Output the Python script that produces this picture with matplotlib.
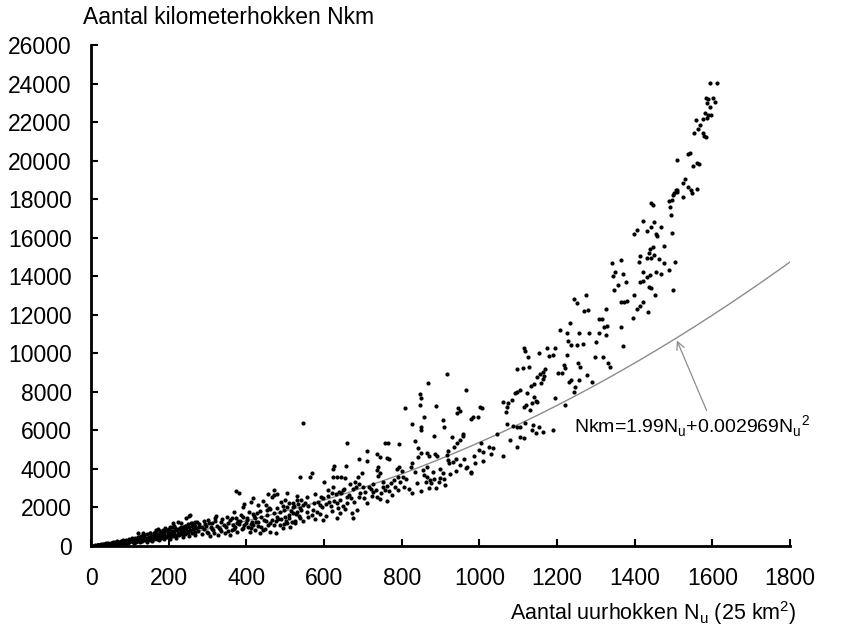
import numpy as np
import matplotlib
matplotlib.use("Agg")
import matplotlib.pyplot as plt

plt.rcParams['font.family'] = ['Liberation Sans', 'DejaVu Sans']
plt.rcParams['mathtext.fontset'] = 'custom'
plt.rcParams['mathtext.rm'] = 'Liberation Sans'

##Data: (Nu, Nkm) pairs, grouped by region

# dense band, Nu < 280
band_low = [(4, 10), (7, 25), (9, 15), (11, 40), (13, 20), (15, 55), (17, 35), (19, 30), (21, 70), (23, 45),
            (26, 60), (27, 90), (29, 50), (31, 80), (33, 110), (35, 65), (37, 95), (39, 130), (41, 75), (43, 105),
            (45, 150), (47, 90), (49, 120), (51, 170), (53, 100), (55, 140), (57, 190), (59, 115), (61, 160), (63, 210),
            (65, 130), (66, 250), (68, 175), (70, 145), (72, 220), (74, 160), (76, 280), (78, 195), (80, 150), (81, 240),
            (83, 300), (85, 180), (87, 210), (89, 330), (91, 170), (93, 260), (95, 225), (97, 360), (99, 190), (101, 290),
            (103, 240), (105, 400), (107, 210), (109, 320), (111, 260), (113, 430), (115, 230), (117, 350), (119, 280),
            (121, 470), (123, 250), (125, 380), (127, 300), (129, 520), (131, 270), (133, 410), (135, 330), (137, 560),
            (139, 290), (141, 440), (143, 360), (145, 600), (147, 310), (149, 480), (151, 390), (153, 650), (155, 330),
            (157, 510), (159, 420), (161, 700), (163, 350), (165, 540), (167, 450), (169, 620), (171, 380), (173, 580),
            (175, 480), (177, 760), (179, 400), (181, 610), (183, 510), (185, 680), (187, 430), (189, 650), (191, 540),
            (193, 820), (195, 460), (197, 700), (199, 570), (201, 880), (203, 480), (205, 740), (207, 600), (209, 800),
            (211, 510), (213, 780), (215, 640), (217, 950), (219, 540), (221, 820), (223, 680), (225, 900), (227, 570),
            (229, 860), (231, 720), (233, 1000), (235, 600), (237, 900), (239, 760), (241, 1050), (243, 630), (245, 940),
            (247, 800), (249, 1120), (251, 660), (253, 980), (255, 840), (257, 1180), (259, 700), (261, 1020), (263, 880),
            (265, 1100), (267, 740), (269, 1060), (271, 920), (273, 1250), (275, 780), (277, 1000), (279, 1150),
            (18, 60), (34, 40), (52, 75), (67, 95), (82, 120), (96, 140), (112, 170), (126, 200), (144, 230), (158, 260),
            (174, 300), (188, 340), (204, 370), (220, 410), (236, 450), (252, 500), (268, 560),
            (152, 692), (167, 830), (178, 744), (195, 830), (208, 969), (214, 1038), (229, 917), (238, 1003), (253, 1557),
            (245, 1038), (259, 1176), (268, 1263), (254, 1609), (245, 1436), (233, 1176), (224, 1263), (211, 1176),
            (203, 1003), (191, 917), (185, 830), (121, 657), (134, 692), (164, 744), (173, 865)]

# Nu 280 - 540
band_mid = [(373, 2871), (382, 2733), (418, 2474), (465, 2560), (471, 2647), (478, 2682), (444, 2353),
            (451, 2128), (459, 1955), (452, 1868), (461, 1903), (488, 2301), (500, 2387), (511, 2214), (494, 2076),
            (506, 2041), (521, 2249), (530, 2387), (534, 2180), (523, 2076), (367, 1782), (391, 2041), (408, 1782),
            (418, 1661), (428, 1695), (437, 1522), (422, 1436), (487, 1782), (480, 1522), (500, 1522), (511, 1609),
            (521, 1695), (531, 1782), (465, 1349), (476, 1315), (487, 1090), (506, 1176), (517, 1263), (525, 1315),
            (537, 1436), (494, 917), (512, 969), (442, 830), (457, 1090), (431, 1038), (414, 1263), (401, 1349),
            (391, 1522), (384, 1315), (373, 1436), (377, 1176), (365, 1090), (358, 1349), (349, 1522), (334, 1263),
            (319, 1436), (322, 1557), (311, 1211), (302, 1349), (294, 1142), (285, 969), (298, 744), (315, 830),
            (332, 865), (345, 692), (362, 830), (375, 744), (392, 917), (409, 744), (422, 830), (435, 657), (448, 865),
            (461, 744), (476, 657), (405, 1003), (418, 1090), (358, 571), (328, 571), (306, 519),
            (285, 600), (292, 880), (300, 650), (308, 980), (318, 700), (325, 1050), (336, 760), (342, 1100),
            (352, 800), (368, 900), (380, 1150), (388, 870), (398, 1200), (412, 950), (425, 1250), (438, 1000),
            (450, 1300), (470, 1100), (482, 1400), (498, 1150), (510, 1450), (525, 1200), (535, 1550),
            (290, 1300), (296, 1020), (304, 1180), (312, 890), (320, 1280), (329, 960), (338, 1380), (347, 1010),
            (354, 1180), (362, 1460), (371, 1000), (379, 1290), (386, 1600), (395, 1080), (403, 1430), (411, 1150),
            (420, 1560), (429, 1240), (436, 1800), (445, 1350), (453, 1620), (462, 1200), (472, 1700), (480, 1950),
            (489, 1400), (496, 1850), (503, 1300), (514, 1800), (519, 2000), (528, 1650), (538, 1950), (395, 2200),
            (412, 2300), (430, 2150), (456, 2700), (505, 2750), (472, 2900), (530, 2600)]

# Nu 540 - 1050
band_up = [(918, 8926), (869, 8477), (547, 6366), (846, 7888), (849, 7664), (847, 7318), (809, 7145), (888, 7266),
           (966, 8096), (858, 6678), (851, 6159), (849, 6020), (826, 6332), (907, 6539), (909, 6159), (946, 7145),
           (949, 7024), (943, 6885), (978, 6574), (983, 6678), (997, 6678), (1002, 7231), (1006, 7145), (959, 5813),
           (957, 5709), (882, 5709), (929, 5640), (834, 5467), (660, 5328), (757, 5363), (766, 5363), (794, 5293),
           (710, 4948), (737, 4775), (743, 4636), (761, 4550), (768, 4498), (843, 5068), (849, 4844), (843, 4636),
           (864, 4809), (871, 4671), (886, 4775), (892, 4671), (920, 4948), (935, 5120), (942, 5328), (949, 5501),
           (916, 4723), (920, 4463), (967, 4083), (978, 3858), (989, 4290), (1000, 4982), (1009, 4896), (1004, 5328),
           (1026, 5155), (1036, 5068), (626, 4152), (622, 3979), (657, 4152), (634, 3599), (643, 3599), (654, 3512),
           (710, 4429), (691, 4498), (740, 4117), (737, 3944), (744, 3771), (740, 3633), (794, 4117), (787, 3979),
           (800, 3910), (803, 3564), (791, 3564), (826, 4290), (823, 4117), (834, 3858), (854, 3944), (866, 4083),
           (880, 3858), (866, 3564), (873, 3425), (863, 3339), (875, 3252), (899, 3979), (906, 3771), (909, 3460),
           (899, 3512), (923, 4290), (933, 4377), (941, 4498), (949, 4204), (966, 4031), (978, 3806), (912, 3166),
           (888, 2993), (871, 2993), (849, 2854), (826, 2768), (806, 3079), (791, 2906), (753, 3339), (763, 3114),
           (772, 3252), (783, 3079), (757, 2906), (774, 2647), (736, 2560), (717, 3079), (720, 2941), (727, 2820),
           (734, 2906), (723, 2595), (744, 2422), (761, 2353), (697, 3771), (688, 3599), (680, 3339), (691, 3218),
           (700, 3079), (682, 3045), (667, 3218), (674, 2941), (693, 2733), (703, 2474), (658, 2560), (669, 2474),
           (645, 2733), (650, 2906), (639, 2820), (624, 3045), (620, 2733), (611, 2906), (598, 2474), (591, 2560),
           (577, 2699), (574, 2214), (590, 2128), (605, 2180), (614, 2301), (626, 2353), (633, 2214), (637, 1955),
           (648, 2076), (660, 2214), (671, 1695), (684, 1868), (674, 1436), (633, 1436), (597, 1349), (581, 1781),
           (568, 1609), (555, 1782), (547, 2128), (540, 1868), (557, 2560), (551, 2214), (542, 2387), (564, 3599),
           (538, 3599), (568, 3771), (600, 3339), (622, 3599),
           (545, 1300), (560, 1500), (578, 1400), (590, 1650), (605, 1550), (620, 1800), (640, 1700), (655, 1900),
           (560, 2050), (572, 1850), (585, 2300), (595, 2000), (610, 2600), (618, 2100), (630, 2700), (642, 2400),
           (652, 2950), (665, 2650), (678, 2300), (690, 2550), (705, 2800), (712, 2250), (725, 3200), (748, 2750),
           (752, 3050), (768, 2850), (780, 3400), (795, 3300), (812, 3500), (818, 2950), (840, 3250), (858, 3700),
           (884, 3500), (895, 3300), (925, 3750), (940, 3900), (960, 4500), (985, 4650), (1010, 4400), (1030, 4800),
           (1045, 5800)]

# Nu 1050 - 1450, below Nkm 13000
band_high = [(1244, 12802), (1252, 12629), (1274, 13009), (1280, 12248), (1269, 12196), (1326, 12283),
             (1309, 11764), (1317, 11764), (1329, 11418), (1321, 11348), (1364, 11348), (1395, 11815), (1407, 12283),
             (1413, 12456), (1422, 12680), (1435, 12161), (1364, 12680), (1372, 12680), (1379, 12715), (1207, 11210),
             (1233, 11556), (1225, 11037), (1257, 11071), (1283, 11071), (1309, 11071), (1326, 10950), (1370, 10380),
             (1229, 10656), (1235, 10431), (1252, 10431), (1268, 10483), (1300, 10604), (1173, 10258), (1195, 10258),
             (1154, 9999), (1180, 9861), (1190, 9912), (1225, 9912), (1255, 9480), (1259, 9307), (1219, 9393),
             (1220, 9221), (1212, 8961), (1203, 8995), (1163, 9047), (1169, 9168), (1156, 8926), (1166, 8823),
             (1149, 8753), (1165, 8649), (1158, 8477), (1142, 8408), (1132, 8304), (1126, 9826), (1115, 10258),
             (1117, 10137), (1129, 9307), (1113, 9221), (1098, 9168), (1106, 8096), (1098, 8010), (1092, 7923),
             (1084, 7577), (1074, 7439), (1070, 7231), (1062, 7490), (1068, 6971), (1141, 7750), (1146, 7542),
             (1149, 7490), (1123, 7923), (1135, 7404), (1120, 7317), (1115, 7231), (1130, 7058), (1195, 7664),
             (1220, 7317), (1232, 8528), (1237, 8615), (1246, 8269), (1244, 8010), (1257, 8615), (1278, 8874),
             (1289, 8528), (1298, 9826), (1319, 9826), (1332, 9480), (1336, 9307), (1070, 6331), (1087, 6228),
             (1096, 6193), (1104, 6159), (1117, 6366), (1135, 6020), (1139, 6280), (1147, 5847), (1154, 6159),
             (1165, 5934), (1190, 6020), (1079, 5501), (1096, 5155), (1104, 5674), (1115, 5588), (1060, 4671)]

# Nu > 1340, top of the cloud
band_top = [(1594, 24047), (1611, 24047), (1584, 23234), (1590, 23182), (1601, 23234), (1607, 23060), (1587, 22974),
            (1594, 22801), (1581, 22455), (1590, 22369), (1596, 22369), (1577, 22144), (1585, 22196), (1558, 22109),
            (1568, 21850), (1564, 21625), (1553, 21417), (1575, 21452), (1579, 21279), (1584, 21210), (1542, 20413),
            (1538, 20344), (1510, 20033), (1561, 19860), (1551, 19722), (1566, 19825), (1530, 19030), (1524, 18822),
            (1538, 18614), (1544, 18476), (1548, 18303), (1506, 18476), (1501, 18303), (1498, 18199), (1510, 18390),
            (1508, 18476), (1497, 17957), (1489, 17922), (1525, 18095), (1561, 18545), (1441, 17818), (1448, 17715),
            (1491, 17576), (1493, 17178), (1422, 16884), (1450, 16832), (1407, 16400), (1397, 16192), (1433, 16365),
            (1441, 16573), (1469, 16573), (1455, 16192), (1458, 16088), (1495, 16227), (1446, 15535), (1439, 15397),
            (1438, 15224), (1450, 15102), (1415, 15050), (1431, 14964), (1441, 14929), (1462, 14912), (1476, 15587),
            (1504, 14756), (1410, 14756), (1476, 14670), (1489, 14324), (1455, 14237), (1467, 14116), (1421, 14237),
            (1341, 14705), (1364, 14843), (1349, 14237), (1345, 14012), (1369, 14116), (1378, 13719), (1358, 13545),
            (1347, 13286), (1414, 13719), (1421, 13753), (1433, 13978), (1439, 14064), (1438, 13459), (1441, 13373),
            (1397, 13026), (1452, 13026), (1498, 13286)]

# fitted curve drawn in the figure and its label
curve_a = 1.86
curve_b = 0.003516
curve_start, curve_end = 130, 1800
label_text = 'Nkm=1.99N$_\\mathregular{u}$+0.002969N$_\\mathregular{u}$$^\\mathregular{2}$'
arrow_tip = (1506, 10800)
arrow_tail = (1588, 6900)

xticks = np.arange(0, 1801, 200)
yticks = np.arange(0, 26001, 2000)

pts = np.array(band_low + band_mid + band_up + band_high + band_top, dtype=float)

###################################################
# PLOTTING
###################################################

fig = plt.figure(figsize=(8.61, 6.34), dpi=100)
ax = fig.add_axes([91/861, 1-546/634, (790-91)/861, (546-45)/634])

ax.scatter(pts[:, 0], pts[:, 1], s=9, c='black', linewidths=0, zorder=3)

xc = np.linspace(curve_start, curve_end, 300)
ax.plot(xc, curve_a*xc + curve_b*xc**2, color='#8c8c8c', lw=1.0, zorder=2)

ax.annotate('', xy=arrow_tip, xytext=arrow_tail,
            arrowprops=dict(arrowstyle='->', color='#8c8c8c', lw=0.9, mutation_scale=14))
ax.text(1244, 6250, label_text, fontsize=14, va='center', ha='left')

ax.set_xlim(0, 1800)
ax.set_ylim(0, 26000)
ax.set_xticks(xticks)
ax.set_yticks(yticks)
ax.tick_params(direction='in', length=5, width=1.5, labelsize=16.5)
ax.tick_params(axis='y', pad=14)
ax.tick_params(axis='x', pad=15)
for s in ['top', 'right']:
    ax.spines[s].set_visible(False)
for s in ['left', 'bottom']:
    ax.spines[s].set_linewidth(2)

fig.text(83/861, 1-18/634, 'Aantal kilometerhokken Nkm', fontsize=16.5, va='center', ha='left')
fig.text(797/861, 1-613/634, 'Aantal uurhokken N$_\\mathregular{u}$ (25 km$^\\mathregular{2}$)',
         fontsize=15.5, va='center', ha='right')

fig.savefig('out.png', dpi=100)
